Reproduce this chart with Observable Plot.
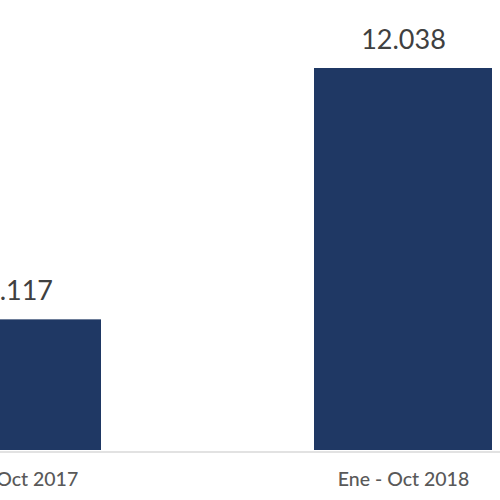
<!DOCTYPE html>
<html>
<head>
<meta charset="utf-8">
<script src="https://cdn.jsdelivr.net/npm/d3@7"></script>
<script src="https://cdn.jsdelivr.net/npm/@observablehq/plot@0.6"></script>
<style>
  html, body { margin: 0; padding: 0; background: #ffffff; }
  #chart { width: 500px; height: 500px; overflow: hidden; }
  #chart svg { display: block; }
</style>
</head>
<body>
<div id="chart"></div>
<script>
const periods = ["Ene - Oct 2017", "Ene - Oct 2018"];
const totals = [4117, 12038];

const data = periods.map((p, i) => ({period: p, value: totals[i]}));
const fmt = d3.formatLocale({decimal: ",", thousands: ".", grouping: [3], currency: ["", "€"]}).format(",d");

const chart = Plot.plot({
  width: 500,
  height: 500,
  marginTop: 0,
  marginBottom: 50,
  marginLeft: 0,
  marginRight: 0,
  style: {fontFamily: "Lato, 'Open Sans', sans-serif", background: "#ffffff", overflow: "hidden"},
  x: {domain: periods, range: [-292, 706], padding: 0.546, axis: null},
  y: {domain: [0, 12038], range: [450, 68], axis: null},
  marks: [
    Plot.barY(data, {x: "period", y: "value", fill: "#1f3864"}),
    Plot.ruleY([0], {stroke: "#d9d9d9", strokeWidth: 1.5, dy: 1.5}),
    Plot.text(data.slice(0, 1), {x: "period", y: "value", text: d => fmt(d.value), dy: -28, dx: 6, fontSize: 27, fill: "#404040"}),
    Plot.text(data.slice(1), {x: "period", y: "value", text: d => fmt(d.value), dy: -28, fontSize: 27, fill: "#404040"}),
    Plot.axisX({domain: periods, tickSize: 0, tickPadding: 22, fontSize: 19.5, fill: "#595959", label: null, fontWeight: 500})
  ]
});
document.getElementById("chart").appendChild(chart);
</script>
</body>
</html>
